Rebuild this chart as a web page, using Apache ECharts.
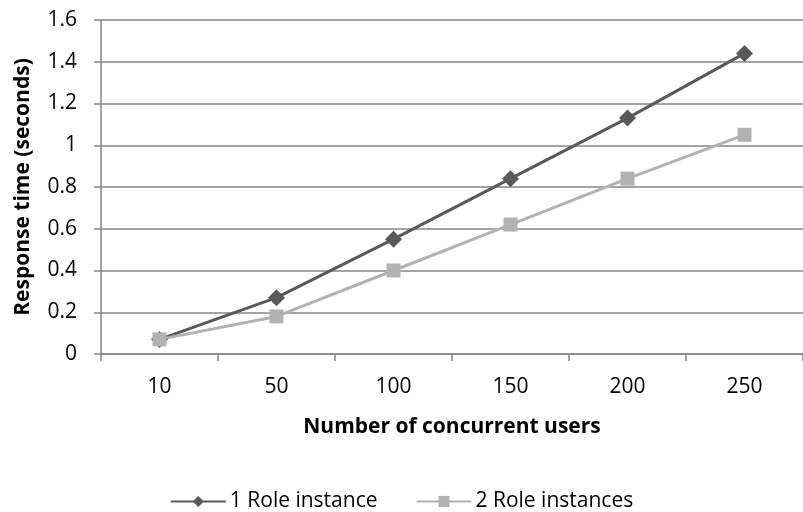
<!DOCTYPE html>
<html><head><meta charset="utf-8">
<script src="https://cdn.jsdelivr.net/npm/echarts@6/dist/echarts.min.js"></script>
<style>html,body{margin:0;padding:0;background:#fff}#c{width:803px;height:512px}</style>
</head><body><div id="c"></div>
<script>
const categories = ['10','50','100','150','200','250'];
const oneRole = [0.07, 0.27, 0.55, 0.84, 1.13, 1.44];
const twoRoles = [0.07, 0.18, 0.40, 0.62, 0.84, 1.05];
const seriesNames = ['1 Role instance','2 Role instances'];
const font = '"Open Sans", "Liberation Sans", sans-serif';
const chart = echarts.init(document.getElementById('c'));
chart.setOption({
  animation:false,
  backgroundColor:'#fff',
  grid:{left:101,right:0,top:20,bottom:158},
  legend:{top:486,left:'center',itemWidth:55,itemHeight:14,itemGap:38,
    textStyle:{fontFamily:font,fontSize:21,color:'#000',padding:[0,0,0,-1]},
    data:seriesNames},
  xAxis:{type:'category',data:categories,boundaryGap:true,
    name:'Number of concurrent users',nameLocation:'middle',nameGap:63,
    nameTextStyle:{fontFamily:font,fontSize:21,fontWeight:'bold',color:'#000'},
    axisLine:{lineStyle:{color:'#868686',width:1.5}},
    axisTick:{show:true,length:7,lineStyle:{color:'#868686',width:1.5}},
    axisLabel:{fontFamily:font,fontSize:21,color:'#000',margin:23}},
  yAxis:{type:'value',min:0,max:1.6,interval:0.2,
    name:'Response time (seconds)',nameLocation:'middle',nameGap:67,
    nameTextStyle:{fontFamily:font,fontSize:21,fontWeight:'bold',color:'#000'},
    axisLine:{show:true,lineStyle:{color:'#868686',width:1.5}},
    axisTick:{show:true,length:7,lineStyle:{color:'#868686',width:1.5}},
    splitLine:{lineStyle:{color:'#868686',width:1.5}},
    axisLabel:{fontFamily:font,fontSize:21,color:'#000',margin:24,
      formatter:v=>String(Math.round(v*10)/10)}},
  series:[
    {name:seriesNames[0],type:'line',data:oneRole,symbol:'diamond',symbolSize:17,
      itemStyle:{color:'#595959'},lineStyle:{color:'#595959',width:3}},
    {name:seriesNames[1],type:'line',data:twoRoles,symbol:'rect',symbolSize:14,
      itemStyle:{color:'#b2b2b2'},lineStyle:{color:'#b2b2b2',width:3}}
  ]
});
</script></body></html>
